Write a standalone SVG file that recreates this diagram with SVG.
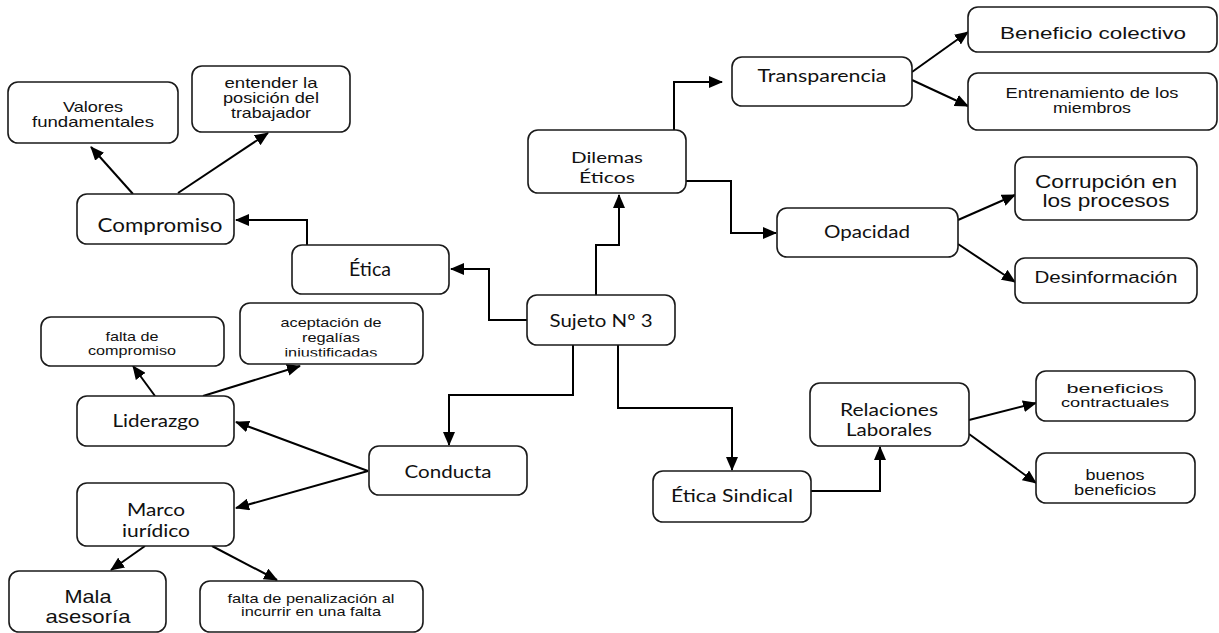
<svg xmlns="http://www.w3.org/2000/svg" width="1219" height="633" viewBox="0 0 1219 633">
<style>
.b{fill:#fff;stroke:#1a1a1a;stroke-width:1.6}
.c{font-family:Lato,"Open Sans",sans-serif;fill:#111;text-anchor:middle}
.a{font-family:"Liberation Sans",Arial,sans-serif;fill:#111;text-anchor:middle}
.e{fill:none;stroke:#000;stroke-width:2}
</style>
<defs>
<marker id="ar" markerUnits="userSpaceOnUse" markerWidth="14" markerHeight="12" refX="13" refY="6" orient="auto">
<path d="M0,0 L14,6 L0,12 Z" fill="#000"/>
</marker>
<clipPath id="clipAcep"><rect x="240" y="300" width="184" height="56.5"/></clipPath>
<clipPath id="clipMarco"><rect x="77" y="483" width="158" height="54"/></clipPath>
</defs>
<rect width="1219" height="633" fill="#fff"/>

<g id="connectors">
<path class="e" d="M133,194 L91,147" marker-end="url(#ar)"/>
<path class="e" d="M178,193 L268,133" marker-end="url(#ar)"/>
<path class="e" d="M307,245 V220 H236" marker-end="url(#ar)"/>
<path class="e" d="M527,320 H489 V269 H451" marker-end="url(#ar)"/>
<path class="e" d="M596,295 V245 H619 V195" marker-end="url(#ar)"/>
<path class="e" d="M674,130 V82 H722" marker-end="url(#ar)"/>
<path class="e" d="M686,181 H731 V233 H776" marker-end="url(#ar)"/>
<path class="e" d="M912,72 L968,32" marker-end="url(#ar)"/>
<path class="e" d="M912,80 L968,106" marker-end="url(#ar)"/>
<path class="e" d="M958,220 L1015,195" marker-end="url(#ar)"/>
<path class="e" d="M958,244 L1015,282" marker-end="url(#ar)"/>
<path class="e" d="M573,345 V395 H449 V445" marker-end="url(#ar)"/>
<path class="e" d="M618,345 V408 H732 V470" marker-end="url(#ar)"/>
<path class="e" d="M811,491 H880 V447" marker-end="url(#ar)"/>
<path class="e" d="M969,420 L1036,403" marker-end="url(#ar)"/>
<path class="e" d="M969,434 L1036,483" marker-end="url(#ar)"/>
<path class="e" d="M368,471 L236,422" marker-end="url(#ar)"/>
<path class="e" d="M368,471 L236,508" marker-end="url(#ar)"/>
<path class="e" d="M155,396 L133,366" marker-end="url(#ar)"/>
<path class="e" d="M203,396 L300,366" marker-end="url(#ar)"/>
<path class="e" d="M145,546 L111,570" marker-end="url(#ar)"/>
<path class="e" d="M212,546 L277,580" marker-end="url(#ar)"/>
</g>

<g id="valores">
<rect class="b" x="8" y="82" width="170" height="61" rx="10"/>
<text class="a" font-size="15"><tspan x="93" y="112" textLength="60" lengthAdjust="spacingAndGlyphs">Valores</tspan><tspan x="93" y="127" textLength="122" lengthAdjust="spacingAndGlyphs">fundamentales</tspan></text>
</g>
<g id="entender">
<rect class="b" x="192" y="66" width="158" height="66" rx="10"/>
<text class="a" font-size="15"><tspan x="271" y="88" textLength="93" lengthAdjust="spacingAndGlyphs">entender la</tspan><tspan x="271" y="103" textLength="96" lengthAdjust="spacingAndGlyphs">posición del</tspan><tspan x="271" y="118" textLength="80" lengthAdjust="spacingAndGlyphs">trabajador</tspan></text>
</g>
<g id="compromiso">
<rect class="b" x="77" y="194" width="157" height="50" rx="10"/>
<text class="c" font-size="20" x="160" y="232" textLength="125" lengthAdjust="spacingAndGlyphs">Compromiso</text>
</g>
<g id="etica">
<rect class="b" x="292" y="245" width="157" height="49" rx="10"/>
<text class="c" font-size="19" x="370" y="276" textLength="42" lengthAdjust="spacingAndGlyphs">Ética</text>
</g>
<g id="sujeto">
<rect class="b" x="527" y="295" width="148" height="50" rx="10"/>
<text class="c" font-size="18" x="601" y="327" textLength="103" lengthAdjust="spacingAndGlyphs">Sujeto Nº 3</text>
</g>
<g id="dilemas">
<rect class="b" x="528" y="130" width="158" height="63" rx="10"/>
<text class="c" font-size="16"><tspan x="607" y="163" textLength="72" lengthAdjust="spacingAndGlyphs">Dilemas</tspan><tspan x="607" y="183" textLength="56" lengthAdjust="spacingAndGlyphs">Éticos</tspan></text>
</g>
<g id="transparencia">
<rect class="b" x="732" y="57" width="180" height="49" rx="10"/>
<text class="c" font-size="17" x="822" y="82" textLength="129" lengthAdjust="spacingAndGlyphs">Transparencia</text>
</g>
<g id="opacidad">
<rect class="b" x="777" y="208" width="181" height="49" rx="10"/>
<text class="c" font-size="17" x="867" y="238" textLength="86" lengthAdjust="spacingAndGlyphs">Opacidad</text>
</g>
<g id="beneficio-colectivo">
<rect class="b" x="968" y="7" width="249" height="45" rx="10"/>
<text class="a" font-size="17" x="1093" y="39" textLength="186" lengthAdjust="spacingAndGlyphs">Beneficio colectivo</text>
</g>
<g id="entrenamiento">
<rect class="b" x="968" y="73" width="249" height="57" rx="10"/>
<text class="a" font-size="14"><tspan x="1092" y="98" textLength="173" lengthAdjust="spacingAndGlyphs">Entrenamiento de los</tspan><tspan x="1092" y="113" textLength="78" lengthAdjust="spacingAndGlyphs">miembros</tspan></text>
</g>
<g id="corrupcion">
<rect class="b" x="1015" y="157" width="182" height="63" rx="10"/>
<text class="a" font-size="18"><tspan x="1106" y="188" textLength="142" lengthAdjust="spacingAndGlyphs">Corrupción en</tspan><tspan x="1106" y="207" textLength="127" lengthAdjust="spacingAndGlyphs">los procesos</tspan></text>
</g>
<g id="desinformacion">
<rect class="b" x="1015" y="258" width="182" height="45" rx="10"/>
<text class="a" font-size="16" x="1106" y="283" textLength="143" lengthAdjust="spacingAndGlyphs">Desinformación</text>
</g>
<g id="etica-sindical">
<rect class="b" x="653" y="471" width="158" height="51" rx="10"/>
<text class="c" font-size="18" x="732" y="502" textLength="122" lengthAdjust="spacingAndGlyphs">Ética Sindical</text>
</g>
<g id="relaciones">
<rect class="b" x="810" y="383" width="159" height="63" rx="10"/>
<text class="c" font-size="18"><tspan x="889" y="416" textLength="98" lengthAdjust="spacingAndGlyphs">Relaciones</tspan><tspan x="889" y="436" textLength="86" lengthAdjust="spacingAndGlyphs">Laborales</tspan></text>
</g>
<g id="beneficios-contractuales">
<rect class="b" x="1036" y="371" width="159" height="50" rx="10"/>
<text class="a" font-size="13"><tspan x="1115" y="393" textLength="97" lengthAdjust="spacingAndGlyphs">beneficios</tspan><tspan x="1115" y="407" textLength="108" lengthAdjust="spacingAndGlyphs">contractuales</tspan></text>
</g>
<g id="buenos-beneficios">
<rect class="b" x="1036" y="453" width="159" height="50" rx="10"/>
<text class="a" font-size="15"><tspan x="1115" y="480" textLength="59" lengthAdjust="spacingAndGlyphs">buenos</tspan><tspan x="1115" y="495" textLength="82" lengthAdjust="spacingAndGlyphs">beneficios</tspan></text>
</g>
<g id="falta-compromiso">
<rect class="b" x="41" y="317" width="183" height="49" rx="10"/>
<text class="a" font-size="13"><tspan x="132" y="341" textLength="53" lengthAdjust="spacingAndGlyphs">falta de</tspan><tspan x="132" y="355" textLength="88" lengthAdjust="spacingAndGlyphs">compromiso</tspan></text>
</g>
<g id="aceptacion">
<rect class="b" x="240" y="303" width="183" height="61" rx="10"/>
<text class="a" font-size="13" clip-path="url(#clipAcep)"><tspan x="331" y="327" textLength="101" lengthAdjust="spacingAndGlyphs">aceptación de</tspan><tspan x="331" y="342" textLength="58" lengthAdjust="spacingAndGlyphs">regalías</tspan><tspan x="331" y="357" textLength="93" lengthAdjust="spacingAndGlyphs">injustificadas</tspan></text>
</g>
<g id="liderazgo">
<rect class="b" x="77" y="396" width="157" height="50" rx="10"/>
<text class="c" font-size="18" x="156" y="427" textLength="87" lengthAdjust="spacingAndGlyphs">Liderazgo</text>
</g>
<g id="conducta">
<rect class="b" x="369" y="446" width="158" height="49" rx="10"/>
<text class="c" font-size="18" x="448" y="478" textLength="87" lengthAdjust="spacingAndGlyphs">Conducta</text>
</g>
<g id="marco">
<rect class="b" x="77" y="483" width="157" height="63" rx="10"/>
<text class="c" font-size="18" clip-path="url(#clipMarco)"><tspan x="156" y="516" textLength="58" lengthAdjust="spacingAndGlyphs">Marco</tspan><tspan x="156" y="537" textLength="68" lengthAdjust="spacingAndGlyphs">jurídico</tspan></text>
</g>
<g id="mala">
<rect class="b" x="9" y="571" width="157" height="61" rx="10"/>
<text class="a" font-size="19"><tspan x="88" y="603" textLength="47" lengthAdjust="spacingAndGlyphs">Mala</tspan><tspan x="88" y="623" textLength="85" lengthAdjust="spacingAndGlyphs">asesoría</tspan></text>
</g>
<g id="penalizacion">
<rect class="b" x="200" y="581" width="223" height="51" rx="10"/>
<text class="a" font-size="13"><tspan x="311" y="603" textLength="167" lengthAdjust="spacingAndGlyphs">falta de penalización al</tspan><tspan x="311" y="616" textLength="140" lengthAdjust="spacingAndGlyphs">incurrir en una falta</tspan></text>
</g>
</svg>
